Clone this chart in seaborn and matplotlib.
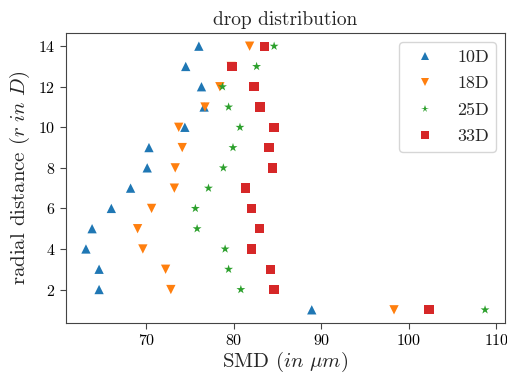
import numpy as np
import pandas as pd
import matplotlib
matplotlib.use("Agg")
import matplotlib.pyplot as plt
import seaborn as sns

radial = [14, 13, 12, 11, 10, 9, 8, 7, 6, 5, 4, 3, 2, 1]
smd_10D = [76.0, 74.5, 76.3, 76.6, 74.4, 70.3, 70.1, 68.2, 66.0, 63.8, 63.1, 64.6, 64.6, 88.9]
smd_18D = [81.8, 79.7, 78.4, 76.7, 73.7, 74.1, 73.3, 73.2, 70.6, 69.0, 69.6, 72.2, 72.8, 98.3]
smd_25D = [84.6, 82.6, 78.7, 79.4, 80.7, 79.9, 78.8, 77.1, 75.6, 75.8, 79.0, 79.4, 80.8, 108.7]
smd_33D = [83.5, 79.8, 82.3, 83.0, 84.6, 84.0, 84.4, 81.3, 82.0, 82.9, 82.0, 84.2, 84.6, 102.3]
series = ["10D", "18D", "25D", "33D"]

df = pd.concat([
    pd.DataFrame({"SMD": v, "r": radial, "dist": s})
    for s, v in zip(series, [smd_10D, smd_18D, smd_25D, smd_33D])
])

sns.set_style("ticks")
plt.rcParams["font.family"] = ["cmr10", "DejaVu Serif"]
plt.rcParams["mathtext.fontset"] = "cm"
plt.rcParams["axes.formatter.use_mathtext"] = True

fig = plt.figure(figsize=(5.07, 3.77), dpi=100)
ax = fig.add_axes([66/507, 1 - 323/377, (505-66)/507, (323-33)/377])
palette = ["#1f77b4", "#ff7f0e", "#2ca02c", "#d62728"]
markers = {"10D": "^", "18D": "v", "25D": "*", "33D": "s"}
sns.scatterplot(data=df, x="SMD", y="r", hue="dist", style="dist",
                markers=markers, palette=palette, s=45, linewidth=0, ax=ax)

ax.set_xticks([70, 80, 90, 100, 110])
ax.set_yticks([2, 4, 6, 8, 10, 12, 14])
ax.tick_params(labelsize=11.5, colors="#444444", labelcolor="black", length=4)
for sp in ax.spines.values():
    sp.set_color("#444444")
ax.set_xlabel(r"SMD ($in\ \mu m$)", fontsize=15, labelpad=1)
ax.set_ylabel(r"radial distance ($r\ in\ D$)", fontsize=15)
ax.set_title("drop distribution", fontsize=14)
leg = ax.legend(loc="upper right", fontsize=13, markerscale=0.8, frameon=True,
                labelspacing=0.6)
leg.get_frame().set_edgecolor("#cccccc")

fig.savefig("out.png", dpi=100)
